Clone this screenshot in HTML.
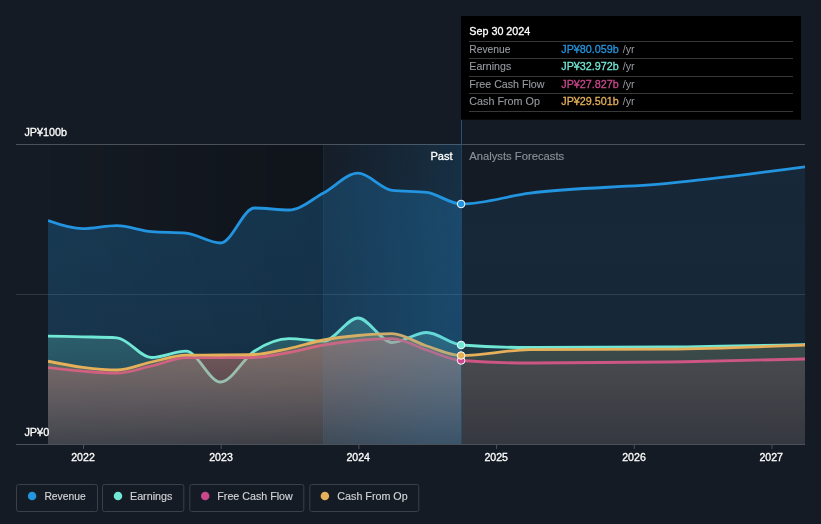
<!DOCTYPE html>
<html><head><meta charset="utf-8"><title>chart</title>
<style>
html,body{margin:0;padding:0;background:#151b24;}
body{width:821px;height:524px;overflow:hidden;font-family:"Liberation Sans",sans-serif;}
svg{display:block;will-change:transform}
text{font-family:"Liberation Sans",sans-serif;}
</style></head><body>
<svg width="821" height="524" viewBox="0 0 821 524">
<defs>
<linearGradient id="gPast" x1="0" x2="1" y1="0" y2="0">
<stop offset="0" stop-color="#000" stop-opacity="0"/>
<stop offset="1" stop-color="#000" stop-opacity="0.24"/>
</linearGradient>
<linearGradient id="gHi" x1="0" x2="1" y1="0" y2="0.4">
<stop offset="0" stop-color="#2394df" stop-opacity="0.02"/>
<stop offset="1" stop-color="#2394df" stop-opacity="0.19"/>
</linearGradient>
<linearGradient id="revP" gradientUnits="userSpaceOnUse" x1="0" x2="0" y1="170" y2="444"><stop offset="0" stop-color="#2394df" stop-opacity="0.26"/><stop offset="0.620" stop-color="#2394df" stop-opacity="0.22"/><stop offset="1" stop-color="#2394df" stop-opacity="0.1"/></linearGradient><linearGradient id="revF" gradientUnits="userSpaceOnUse" x1="0" x2="0" y1="170" y2="444"><stop offset="0" stop-color="#2394df" stop-opacity="0.115"/><stop offset="0.620" stop-color="#2394df" stop-opacity="0.105"/><stop offset="1" stop-color="#2394df" stop-opacity="0.06"/></linearGradient><linearGradient id="earP" gradientUnits="userSpaceOnUse" x1="0" x2="0" y1="320" y2="444"><stop offset="0" stop-color="#71e7d6" stop-opacity="0.25"/><stop offset="1" stop-color="#71e7d6" stop-opacity="0.08"/></linearGradient><linearGradient id="earF" gradientUnits="userSpaceOnUse" x1="0" x2="0" y1="320" y2="444"><stop offset="0" stop-color="#71e7d6" stop-opacity="0.115"/><stop offset="1" stop-color="#71e7d6" stop-opacity="0.05"/></linearGradient><linearGradient id="fcfP" gradientUnits="userSpaceOnUse" x1="0" x2="0" y1="335" y2="444"><stop offset="0" stop-color="#c9488c" stop-opacity="0.3"/><stop offset="1" stop-color="#c9488c" stop-opacity="0.1"/></linearGradient><linearGradient id="fcfF" gradientUnits="userSpaceOnUse" x1="0" x2="0" y1="335" y2="444"><stop offset="0" stop-color="#c9488c" stop-opacity="0.11"/><stop offset="1" stop-color="#c9488c" stop-opacity="0.07"/></linearGradient><linearGradient id="cfoP" gradientUnits="userSpaceOnUse" x1="0" x2="0" y1="335" y2="444"><stop offset="0" stop-color="#e6b05b" stop-opacity="0.3"/><stop offset="1" stop-color="#e6b05b" stop-opacity="0.1"/></linearGradient><linearGradient id="cfoF" gradientUnits="userSpaceOnUse" x1="0" x2="0" y1="335" y2="444"><stop offset="0" stop-color="#e6b05b" stop-opacity="0.15"/><stop offset="1" stop-color="#e6b05b" stop-opacity="0.08"/></linearGradient>
<clipPath id="cPast"><rect x="48" y="100" width="413.2" height="345"/></clipPath>
<clipPath id="cFut"><rect x="461.2" y="100" width="343.8" height="345"/></clipPath>
<clipPath id="cAll"><rect x="48" y="100" width="757" height="345"/></clipPath>
<clipPath id="cUnder"><path d="M48.00,361.20C59.57,363.52,71.13,365.83,82.70,367.30C94.13,368.75,105.57,370.00,117.00,370.00C128.50,370.00,140.00,364.47,151.50,362.00C163.00,359.53,174.50,355.33,186.00,355.20C197.53,355.07,209.07,355.12,220.60,355.00C231.90,354.88,243.20,354.83,254.50,354.50C266.00,354.16,277.50,350.92,289.00,348.50C300.50,346.08,312.00,342.17,323.50,340.00C335.00,337.83,346.50,336.55,358.00,335.50C369.33,334.46,380.67,333.70,392.00,333.70C403.57,333.70,415.13,342.36,426.70,346.00C438.20,349.62,449.70,355.50,461.20,355.50C484.13,355.50,507.07,349.77,530.00,349.60C575.90,349.27,621.80,349.43,667.70,349.10C713.47,348.77,759.23,346.88,805.00,345.00L805,445L48,445Z"/><path d="M48.00,367.50C59.57,368.87,71.13,370.25,82.70,371.20C94.13,372.14,105.57,373.20,117.00,373.20C128.50,373.20,140.00,368.58,151.50,366.00C163.00,363.42,174.50,357.83,186.00,357.70C197.53,357.57,209.07,357.50,220.60,357.50C231.90,357.50,243.20,357.50,254.50,357.50C266.00,357.50,277.50,354.58,289.00,352.50C300.50,350.42,312.00,347.00,323.50,345.00C335.00,343.00,346.50,341.55,358.00,340.50C369.33,339.46,380.67,338.70,392.00,338.70C403.57,338.70,415.13,346.36,426.70,350.00C438.20,353.62,449.70,359.66,461.20,360.50C484.13,362.17,507.07,363.00,530.00,363.00C575.90,363.00,621.80,362.67,667.70,362.00C713.47,361.34,759.23,360.17,805.00,359.00L805,445L48,445Z"/></clipPath>
</defs>
<!-- gridlines -->
<rect x="16" y="144" width="789" height="1" fill="#4b515b"/>
<rect x="16" y="294" width="789" height="1" fill="#2e3641"/>
<!-- past shading -->
<rect x="48" y="145" width="275.3" height="300" fill="url(#gPast)"/>
<g clip-path="url(#cAll)">
<g clip-path="url(#cPast)">
<path d="M48.00,220.50C59.57,224.60,71.13,228.70,82.70,228.70C94.13,228.70,105.57,225.70,117.00,225.70C128.50,225.70,140.00,230.70,151.50,231.70C163.00,232.70,174.50,232.20,186.00,233.20C197.53,234.20,209.07,243.00,220.60,243.00C231.90,243.00,243.20,208.00,254.50,208.00C266.00,208.00,277.50,210.00,289.00,210.00C300.50,210.00,312.00,199.13,323.50,193.00C335.00,186.87,346.50,173.20,358.00,173.20C369.33,173.20,380.67,188.93,392.00,190.30C403.57,191.70,415.13,191.00,426.70,192.40C438.20,193.79,449.70,204.00,461.20,204.00C484.13,204.00,507.07,196.06,530.00,193.10C575.90,187.17,621.80,187.80,667.70,183.40C713.47,179.01,759.23,172.88,805.00,166.75L805,445L48,445Z" fill="url(#revP)"/>
<path d="M48.00,336.20C59.57,336.37,71.13,336.53,82.70,336.80C94.13,337.07,105.57,337.13,117.00,337.80C128.50,338.47,140.00,357.50,151.50,357.50C163.00,357.50,174.50,351.20,186.00,351.20C197.53,351.20,209.07,382.00,220.60,382.00C231.90,382.00,243.20,358.21,254.50,351.00C266.00,343.66,277.50,338.70,289.00,338.70C300.50,338.70,312.00,341.20,323.50,341.20C335.00,341.20,346.50,318.00,358.00,318.00C369.33,318.00,380.67,342.50,392.00,342.50C403.57,342.50,415.13,332.50,426.70,332.50C438.20,332.50,449.70,344.16,461.20,345.00C484.13,346.67,507.07,347.50,530.00,347.50C575.90,347.50,621.80,347.33,667.70,347.00C713.47,346.67,759.23,345.58,805.00,344.50L805,445L48,445Z" fill="url(#earP)"/>
</g>
<g clip-path="url(#cFut)">
<path d="M48.00,220.50C59.57,224.60,71.13,228.70,82.70,228.70C94.13,228.70,105.57,225.70,117.00,225.70C128.50,225.70,140.00,230.70,151.50,231.70C163.00,232.70,174.50,232.20,186.00,233.20C197.53,234.20,209.07,243.00,220.60,243.00C231.90,243.00,243.20,208.00,254.50,208.00C266.00,208.00,277.50,210.00,289.00,210.00C300.50,210.00,312.00,199.13,323.50,193.00C335.00,186.87,346.50,173.20,358.00,173.20C369.33,173.20,380.67,188.93,392.00,190.30C403.57,191.70,415.13,191.00,426.70,192.40C438.20,193.79,449.70,204.00,461.20,204.00C484.13,204.00,507.07,196.06,530.00,193.10C575.90,187.17,621.80,187.80,667.70,183.40C713.47,179.01,759.23,172.88,805.00,166.75L805,445L48,445Z" fill="url(#revF)"/>
<path d="M48.00,336.20C59.57,336.37,71.13,336.53,82.70,336.80C94.13,337.07,105.57,337.13,117.00,337.80C128.50,338.47,140.00,357.50,151.50,357.50C163.00,357.50,174.50,351.20,186.00,351.20C197.53,351.20,209.07,382.00,220.60,382.00C231.90,382.00,243.20,358.21,254.50,351.00C266.00,343.66,277.50,338.70,289.00,338.70C300.50,338.70,312.00,341.20,323.50,341.20C335.00,341.20,346.50,318.00,358.00,318.00C369.33,318.00,380.67,342.50,392.00,342.50C403.57,342.50,415.13,332.50,426.70,332.50C438.20,332.50,449.70,344.16,461.20,345.00C484.13,346.67,507.07,347.50,530.00,347.50C575.90,347.50,621.80,347.33,667.70,347.00C713.47,346.67,759.23,345.58,805.00,344.50L805,445L48,445Z" fill="url(#earF)"/>
</g>
<path d="M48.00,336.20C59.57,336.37,71.13,336.53,82.70,336.80C94.13,337.07,105.57,337.13,117.00,337.80C128.50,338.47,140.00,357.50,151.50,357.50C163.00,357.50,174.50,351.20,186.00,351.20C197.53,351.20,209.07,382.00,220.60,382.00C231.90,382.00,243.20,358.21,254.50,351.00C266.00,343.66,277.50,338.70,289.00,338.70C300.50,338.70,312.00,341.20,323.50,341.20C335.00,341.20,346.50,318.00,358.00,318.00C369.33,318.00,380.67,342.50,392.00,342.50C403.57,342.50,415.13,332.50,426.70,332.50C438.20,332.50,449.70,344.16,461.20,345.00C484.13,346.67,507.07,347.50,530.00,347.50C575.90,347.50,621.80,347.33,667.70,347.00C713.47,346.67,759.23,345.58,805.00,344.50" fill="none" stroke="#71e7d6" stroke-width="2.8" stroke-linejoin="round"/>
<path d="M48.00,367.50C59.57,368.87,71.13,370.25,82.70,371.20C94.13,372.14,105.57,373.20,117.00,373.20C128.50,373.20,140.00,368.58,151.50,366.00C163.00,363.42,174.50,357.83,186.00,357.70C197.53,357.57,209.07,357.50,220.60,357.50C231.90,357.50,243.20,357.50,254.50,357.50C266.00,357.50,277.50,354.58,289.00,352.50C300.50,350.42,312.00,347.00,323.50,345.00C335.00,343.00,346.50,341.55,358.00,340.50C369.33,339.46,380.67,338.70,392.00,338.70C403.57,338.70,415.13,346.36,426.70,350.00C438.20,353.62,449.70,359.66,461.20,360.50C484.13,362.17,507.07,363.00,530.00,363.00C575.90,363.00,621.80,362.67,667.70,362.00C713.47,361.34,759.23,360.17,805.00,359.00L805,445L48,445Z" fill="url(#fcfP)" clip-path="url(#cPast)"/>
<path d="M48.00,367.50C59.57,368.87,71.13,370.25,82.70,371.20C94.13,372.14,105.57,373.20,117.00,373.20C128.50,373.20,140.00,368.58,151.50,366.00C163.00,363.42,174.50,357.83,186.00,357.70C197.53,357.57,209.07,357.50,220.60,357.50C231.90,357.50,243.20,357.50,254.50,357.50C266.00,357.50,277.50,354.58,289.00,352.50C300.50,350.42,312.00,347.00,323.50,345.00C335.00,343.00,346.50,341.55,358.00,340.50C369.33,339.46,380.67,338.70,392.00,338.70C403.57,338.70,415.13,346.36,426.70,350.00C438.20,353.62,449.70,359.66,461.20,360.50C484.13,362.17,507.07,363.00,530.00,363.00C575.90,363.00,621.80,362.67,667.70,362.00C713.47,361.34,759.23,360.17,805.00,359.00L805,445L48,445Z" fill="url(#fcfF)" clip-path="url(#cFut)"/>
<path d="M48.00,367.50C59.57,368.87,71.13,370.25,82.70,371.20C94.13,372.14,105.57,373.20,117.00,373.20C128.50,373.20,140.00,368.58,151.50,366.00C163.00,363.42,174.50,357.83,186.00,357.70C197.53,357.57,209.07,357.50,220.60,357.50C231.90,357.50,243.20,357.50,254.50,357.50C266.00,357.50,277.50,354.58,289.00,352.50C300.50,350.42,312.00,347.00,323.50,345.00C335.00,343.00,346.50,341.55,358.00,340.50C369.33,339.46,380.67,338.70,392.00,338.70C403.57,338.70,415.13,346.36,426.70,350.00C438.20,353.62,449.70,359.66,461.20,360.50C484.13,362.17,507.07,363.00,530.00,363.00C575.90,363.00,621.80,362.67,667.70,362.00C713.47,361.34,759.23,360.17,805.00,359.00" fill="none" stroke="#c9488c" stroke-width="2.8"/>
<path d="M48.00,361.20C59.57,363.52,71.13,365.83,82.70,367.30C94.13,368.75,105.57,370.00,117.00,370.00C128.50,370.00,140.00,364.47,151.50,362.00C163.00,359.53,174.50,355.33,186.00,355.20C197.53,355.07,209.07,355.12,220.60,355.00C231.90,354.88,243.20,354.83,254.50,354.50C266.00,354.16,277.50,350.92,289.00,348.50C300.50,346.08,312.00,342.17,323.50,340.00C335.00,337.83,346.50,336.55,358.00,335.50C369.33,334.46,380.67,333.70,392.00,333.70C403.57,333.70,415.13,342.36,426.70,346.00C438.20,349.62,449.70,355.50,461.20,355.50C484.13,355.50,507.07,349.77,530.00,349.60C575.90,349.27,621.80,349.43,667.70,349.10C713.47,348.77,759.23,346.88,805.00,345.00L805,445L48,445Z" fill="url(#cfoP)" clip-path="url(#cPast)"/>
<path d="M48.00,361.20C59.57,363.52,71.13,365.83,82.70,367.30C94.13,368.75,105.57,370.00,117.00,370.00C128.50,370.00,140.00,364.47,151.50,362.00C163.00,359.53,174.50,355.33,186.00,355.20C197.53,355.07,209.07,355.12,220.60,355.00C231.90,354.88,243.20,354.83,254.50,354.50C266.00,354.16,277.50,350.92,289.00,348.50C300.50,346.08,312.00,342.17,323.50,340.00C335.00,337.83,346.50,336.55,358.00,335.50C369.33,334.46,380.67,333.70,392.00,333.70C403.57,333.70,415.13,342.36,426.70,346.00C438.20,349.62,449.70,355.50,461.20,355.50C484.13,355.50,507.07,349.77,530.00,349.60C575.90,349.27,621.80,349.43,667.70,349.10C713.47,348.77,759.23,346.88,805.00,345.00L805,445L48,445Z" fill="url(#cfoF)" clip-path="url(#cFut)"/>
<path d="M48.00,361.20C59.57,363.52,71.13,365.83,82.70,367.30C94.13,368.75,105.57,370.00,117.00,370.00C128.50,370.00,140.00,364.47,151.50,362.00C163.00,359.53,174.50,355.33,186.00,355.20C197.53,355.07,209.07,355.12,220.60,355.00C231.90,354.88,243.20,354.83,254.50,354.50C266.00,354.16,277.50,350.92,289.00,348.50C300.50,346.08,312.00,342.17,323.50,340.00C335.00,337.83,346.50,336.55,358.00,335.50C369.33,334.46,380.67,333.70,392.00,333.70C403.57,333.70,415.13,342.36,426.70,346.00C438.20,349.62,449.70,355.50,461.20,355.50C484.13,355.50,507.07,349.77,530.00,349.60C575.90,349.27,621.80,349.43,667.70,349.10C713.47,348.77,759.23,346.88,805.00,345.00" fill="none" stroke="#e6b05b" stroke-width="2.8"/>
</g>
<rect x="323.3" y="144" width="137.9" height="301" fill="url(#gHi)"/>
<rect x="323" y="145" width="1" height="299" fill="#2394df" fill-opacity="0.12"/>
<g clip-path="url(#cAll)">
<path d="M48.00,220.50C59.57,224.60,71.13,228.70,82.70,228.70C94.13,228.70,105.57,225.70,117.00,225.70C128.50,225.70,140.00,230.70,151.50,231.70C163.00,232.70,174.50,232.20,186.00,233.20C197.53,234.20,209.07,243.00,220.60,243.00C231.90,243.00,243.20,208.00,254.50,208.00C266.00,208.00,277.50,210.00,289.00,210.00C300.50,210.00,312.00,199.13,323.50,193.00C335.00,186.87,346.50,173.20,358.00,173.20C369.33,173.20,380.67,188.93,392.00,190.30C403.57,191.70,415.13,191.00,426.70,192.40C438.20,193.79,449.70,204.00,461.20,204.00C484.13,204.00,507.07,196.06,530.00,193.10C575.90,187.17,621.80,187.80,667.70,183.40C713.47,179.01,759.23,172.88,805.00,166.75" fill="none" stroke="#2394df" stroke-width="2.8"/>
</g>
<!-- axis line -->
<rect x="16" y="444" width="789" height="1" fill="#4b515b"/>
<g fill="#4b515b"><rect x="83.0" y="445" width="1" height="4"/><rect x="220.7" y="445" width="1" height="4"/><rect x="358.4" y="445" width="1" height="4"/><rect x="496.1" y="445" width="1" height="4"/><rect x="633.8" y="445" width="1" height="4"/><rect x="771.5" y="445" width="1" height="4"/></g>
<!-- hover line -->
<rect x="461" y="119" width="1" height="25" fill="#23547c"/><rect x="461" y="144" width="1" height="301" fill="#23547c" fill-opacity="0.65"/>
<!-- markers -->
<circle cx="461.1" cy="360.5" r="3.8" fill="#c9488c" stroke="#fff" stroke-width="1"/>
<circle cx="461.1" cy="355.5" r="3.8" fill="#e6b05b" stroke="#fff" stroke-width="1"/>
<circle cx="461.1" cy="345" r="3.8" fill="#71e7d6" stroke="#fff" stroke-width="1"/>
<circle cx="461.1" cy="204" r="3.8" fill="#2394df" stroke="#fff" stroke-width="1"/>
<!-- labels -->
<text x="24.4" y="136.1" font-size="11" fill="#fff" text-anchor="start" textLength="42.5" lengthAdjust="spacingAndGlyphs" stroke="#fff" stroke-width="0.3">JP¥100b</text>
<text x="24.4" y="436.1" font-size="11" fill="#fff" text-anchor="start" textLength="24.8" lengthAdjust="spacingAndGlyphs" stroke="#fff" stroke-width="0.3">JP¥0</text>
<text x="430.4" y="159.7" font-size="11" fill="#fff" text-anchor="start" textLength="22.2" lengthAdjust="spacingAndGlyphs" stroke="#fff" stroke-width="0.3">Past</text>
<text x="469.2" y="159.7" font-size="11" fill="#8b9098" text-anchor="start" textLength="95" lengthAdjust="spacingAndGlyphs" stroke="#8b9098" stroke-width="0.15">Analysts Forecasts</text>
<text x="83" y="460.8" font-size="11" fill="#fff" text-anchor="middle" textLength="23.6" lengthAdjust="spacingAndGlyphs" stroke="#fff" stroke-width="0.3">2022</text><text x="221" y="460.8" font-size="11" fill="#fff" text-anchor="middle" textLength="23.6" lengthAdjust="spacingAndGlyphs" stroke="#fff" stroke-width="0.3">2023</text><text x="358.2" y="460.8" font-size="11" fill="#fff" text-anchor="middle" textLength="23.6" lengthAdjust="spacingAndGlyphs" stroke="#fff" stroke-width="0.3">2024</text><text x="496.2" y="460.8" font-size="11" fill="#fff" text-anchor="middle" textLength="23.6" lengthAdjust="spacingAndGlyphs" stroke="#fff" stroke-width="0.3">2025</text><text x="634" y="460.8" font-size="11" fill="#fff" text-anchor="middle" textLength="23.6" lengthAdjust="spacingAndGlyphs" stroke="#fff" stroke-width="0.3">2026</text><text x="771.2" y="460.8" font-size="11" fill="#fff" text-anchor="middle" textLength="23.6" lengthAdjust="spacingAndGlyphs" stroke="#fff" stroke-width="0.3">2027</text>
<!-- tooltip -->
<rect x="461" y="16" width="340" height="103.7" fill="#000"/>
<text x="469.3" y="35" font-size="11" fill="#fff" text-anchor="start" textLength="61" lengthAdjust="spacingAndGlyphs" stroke="#fff" stroke-width="0.3">Sep 30 2024</text>
<g fill="#373839">
<rect x="469" y="41" width="324" height="1"/><rect x="469" y="58" width="324" height="1"/><rect x="469" y="76" width="324" height="1"/>
<rect x="469" y="93" width="324" height="1"/><rect x="469" y="111" width="324" height="1"/>
</g>
<text x="469.3" y="52.5" font-size="11" fill="#969a9f" text-anchor="start" textLength="41.1" lengthAdjust="spacingAndGlyphs" stroke="#969a9f" stroke-width="0.12">Revenue</text><text x="561.3" y="52.5" font-size="11" fill="#2394df" text-anchor="start" textLength="57.5" lengthAdjust="spacingAndGlyphs" stroke="#2394df" stroke-width="0.3">JP¥80.059b</text><text x="622.7" y="52.5" font-size="11" fill="#969a9f" text-anchor="start" textLength="12" lengthAdjust="spacingAndGlyphs">/yr</text><text x="469.3" y="69.5" font-size="11" fill="#969a9f" text-anchor="start" textLength="41.9" lengthAdjust="spacingAndGlyphs" stroke="#969a9f" stroke-width="0.12">Earnings</text><text x="561.3" y="69.5" font-size="11" fill="#71e7d6" text-anchor="start" textLength="57.5" lengthAdjust="spacingAndGlyphs" stroke="#71e7d6" stroke-width="0.3">JP¥32.972b</text><text x="622.7" y="69.5" font-size="11" fill="#969a9f" text-anchor="start" textLength="12" lengthAdjust="spacingAndGlyphs">/yr</text><text x="469.3" y="87.5" font-size="11" fill="#969a9f" text-anchor="start" textLength="75.2" lengthAdjust="spacingAndGlyphs" stroke="#969a9f" stroke-width="0.12">Free Cash Flow</text><text x="561.3" y="87.5" font-size="11" fill="#c9488c" text-anchor="start" textLength="57.5" lengthAdjust="spacingAndGlyphs" stroke="#c9488c" stroke-width="0.3">JP¥27.827b</text><text x="622.7" y="87.5" font-size="11" fill="#969a9f" text-anchor="start" textLength="12" lengthAdjust="spacingAndGlyphs">/yr</text><text x="469.3" y="104.5" font-size="11" fill="#969a9f" text-anchor="start" textLength="70.6" lengthAdjust="spacingAndGlyphs" stroke="#969a9f" stroke-width="0.12">Cash From Op</text><text x="561.3" y="104.5" font-size="11" fill="#e6b05b" text-anchor="start" textLength="57.5" lengthAdjust="spacingAndGlyphs" stroke="#e6b05b" stroke-width="0.3">JP¥29.501b</text><text x="622.7" y="104.5" font-size="11" fill="#969a9f" text-anchor="start" textLength="12" lengthAdjust="spacingAndGlyphs">/yr</text>
<!-- legend -->
<rect x="16.5" y="484.5" width="81" height="27" rx="2" fill="none" stroke="#3a3f49"/><circle cx="32.1" cy="496" r="4.25" fill="#2394df"/><text x="44.4" y="499.9" font-size="11" fill="#d2d4d8" text-anchor="start" textLength="41.3" lengthAdjust="spacingAndGlyphs" stroke="#d2d4d8" stroke-width="0.15">Revenue</text><rect x="102.5" y="484.5" width="81.30000000000001" height="27" rx="2" fill="none" stroke="#3a3f49"/><circle cx="118" cy="496" r="4.25" fill="#71e7d6"/><text x="130" y="499.9" font-size="11" fill="#d2d4d8" text-anchor="start" textLength="42.3" lengthAdjust="spacingAndGlyphs" stroke="#d2d4d8" stroke-width="0.15">Earnings</text><rect x="189.8" y="484.5" width="114.0" height="27" rx="2" fill="none" stroke="#3a3f49"/><circle cx="205.2" cy="496" r="4.25" fill="#c9488c"/><text x="217.3" y="499.9" font-size="11" fill="#d2d4d8" text-anchor="start" textLength="75.4" lengthAdjust="spacingAndGlyphs" stroke="#d2d4d8" stroke-width="0.15">Free Cash Flow</text><rect x="309.8" y="484.5" width="109.0" height="27" rx="2" fill="none" stroke="#3a3f49"/><circle cx="324.9" cy="496" r="4.25" fill="#e6b05b"/><text x="337.3" y="499.9" font-size="11" fill="#d2d4d8" text-anchor="start" textLength="70.4" lengthAdjust="spacingAndGlyphs" stroke="#d2d4d8" stroke-width="0.15">Cash From Op</text>
</svg>
</body></html>
